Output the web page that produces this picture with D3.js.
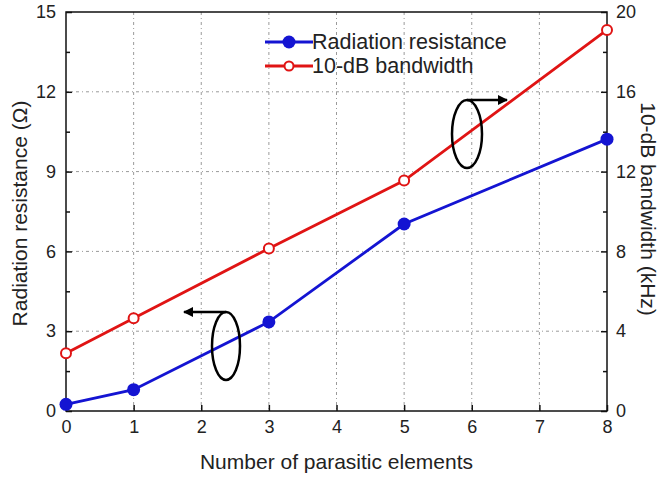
<!DOCTYPE html>
<html><head><meta charset="utf-8">
<script src="https://cdn.jsdelivr.net/npm/d3@7"></script>
<style>body{margin:0;background:#fff}svg{display:block}text{font-family:"Liberation Sans",Arial,sans-serif;fill:#222}</style>
</head><body>
<svg id="c" width="664" height="478"></svg>
<script>
const xValues = [0, 1, 3, 5, 8];
const resistance = [0.25, 0.8, 3.35, 7.03, 10.22];
const bandwidth = [2.9, 4.65, 8.15, 11.55, 19.1];
const xTicks = [0,1,2,3,4,5,6,7,8];
const leftTicks = [0,3,6,9,12,15];
const rightTicks = [0,4,8,12,16,20];
const seriesNames = ["Radiation resistance", "10-dB bandwidth"];
const xTitle = "Number of parasitic elements";
const yLeftTitle = "Radiation resistance (Ω)";
const yRightTitle = "10-dB bandwidth (kHz)";

const svg = d3.select("#c");
const L=66, R=607, T=12, B=411;
const x = d3.scaleLinear().domain([0,8]).range([L,R]);
const yl = d3.scaleLinear().domain([0,15]).range([B,T]);
const yr = d3.scaleLinear().domain([0,20]).range([B,T]);
const blue="#1414d2", red="#e01414";

// grid
const grid = svg.append("g").attr("stroke","#9a9a9a").attr("stroke-width",1).attr("stroke-dasharray","3,3,1,3");
grid.selectAll(".gx").data(xTicks.slice(1,-1)).join("line")
  .attr("x1",d=>x(d)).attr("x2",d=>x(d)).attr("y1",T).attr("y2",B);
grid.selectAll(".gy").data(leftTicks.slice(1,-1)).join("line")
  .attr("y1",d=>yl(d)).attr("y2",d=>yl(d)).attr("x1",L).attr("x2",R);

// axes
const fs = 18;
svg.append("g").attr("transform",`translate(0,${B})`)
  .call(d3.axisBottom(x).tickValues(xTicks).tickSizeInner(-6).tickSizeOuter(0).tickPadding(9).tickFormat(d3.format("d")));
svg.append("g").attr("transform",`translate(${L},0)`)
  .call(d3.axisLeft(yl).tickValues(leftTicks).tickSizeInner(-6).tickSizeOuter(0).tickPadding(10));
svg.append("g").attr("transform",`translate(${R},0)`)
  .call(d3.axisRight(yr).tickValues(rightTicks).tickSizeInner(-6).tickSizeOuter(0).tickPadding(9));
// minor ticks
svg.append("g").attr("transform",`translate(${L},0)`)
  .call(d3.axisLeft(yl).tickValues(d3.range(1.5,15,3)).tickSize(-4).tickFormat(""));
svg.append("g").attr("transform",`translate(${R},0)`)
  .call(d3.axisRight(yr).tickValues(d3.range(2,20,4)).tickSize(-4).tickFormat(""));
svg.selectAll(".domain").remove();
svg.selectAll(".tick line").attr("stroke","#111").attr("stroke-width",1.5);
svg.selectAll(".tick text").attr("font-size",fs).attr("fill","#2a2a2a")
  .attr("font-family",'"Liberation Sans",Arial,sans-serif');
// frame
svg.append("rect").attr("x",L).attr("y",T).attr("width",R-L).attr("height",B-T)
  .attr("fill","none").attr("stroke","#111").attr("stroke-width",1.5);

// titles
svg.append("text").attr("x",(L+R)/2).attr("y",469).attr("text-anchor","middle").attr("font-size",21).text(xTitle);
svg.append("text").attr("transform",`translate(27,${(T+B)/2+2}) rotate(-90)`).attr("text-anchor","middle").attr("font-size",21).text(yLeftTitle);
svg.append("text").attr("transform",`translate(641,209) rotate(90)`).attr("text-anchor","middle").attr("font-size",21).text(yRightTitle);

// series
const lineL = d3.line().x((d,i)=>x(xValues[i])).y(d=>yl(d));
const lineR = d3.line().x((d,i)=>x(xValues[i])).y(d=>yr(d));
svg.append("path").datum(bandwidth).attr("d",lineR).attr("fill","none").attr("stroke",red).attr("stroke-width",2.8);
svg.append("path").datum(resistance).attr("d",lineL).attr("fill","none").attr("stroke",blue).attr("stroke-width",2.8);
svg.selectAll(".mb").data(resistance).join("circle").attr("cx",(d,i)=>x(xValues[i])).attr("cy",d=>yl(d)).attr("r",6.5).attr("fill",blue);
svg.selectAll(".mr").data(bandwidth).join("circle").attr("cx",(d,i)=>x(xValues[i])).attr("cy",d=>yr(d)).attr("r",5).attr("fill","#fff").attr("stroke",red).attr("stroke-width",2);

// legend
const lg = svg.append("g");
[[blue,42,true],[red,66,false]].forEach(([c,y,filled],i)=>{
  lg.append("line").attr("x1",265).attr("x2",313).attr("y1",y).attr("y2",y).attr("stroke",c).attr("stroke-width",2.8);
  if(filled) lg.append("circle").attr("cx",289).attr("cy",y).attr("r",6.5).attr("fill",c);
  else lg.append("circle").attr("cx",289).attr("cy",y).attr("r",4.5).attr("fill","#fff").attr("stroke",c).attr("stroke-width",2);
  lg.append("text").attr("x",312).attr("y",y+7).attr("font-size",21.5).text(seriesNames[i]);
});

// annotations
const defs = svg.append("defs");
defs.append("marker").attr("id","ah").attr("viewBox","0 0 10 10").attr("refX",9).attr("refY",5)
  .attr("markerWidth",5).attr("markerHeight",4).attr("orient","auto").attr("markerUnits","strokeWidth")
  .append("path").attr("d","M0,0L10,5L0,10z").attr("fill","#000");
const an = svg.append("g").attr("stroke","#000").attr("stroke-width",2.5).attr("fill","none");
an.append("ellipse").attr("cx",226).attr("cy",346).attr("rx",14).attr("ry",34);
an.append("line").attr("x1",226).attr("y1",312).attr("x2",184).attr("y2",312).attr("marker-end","url(#ah)");
an.append("ellipse").attr("cx",467).attr("cy",134).attr("rx",15).attr("ry",34);
an.append("line").attr("x1",467).attr("y1",100).attr("x2",507).attr("y2",100).attr("marker-end","url(#ah)");
</script>
</body></html>
